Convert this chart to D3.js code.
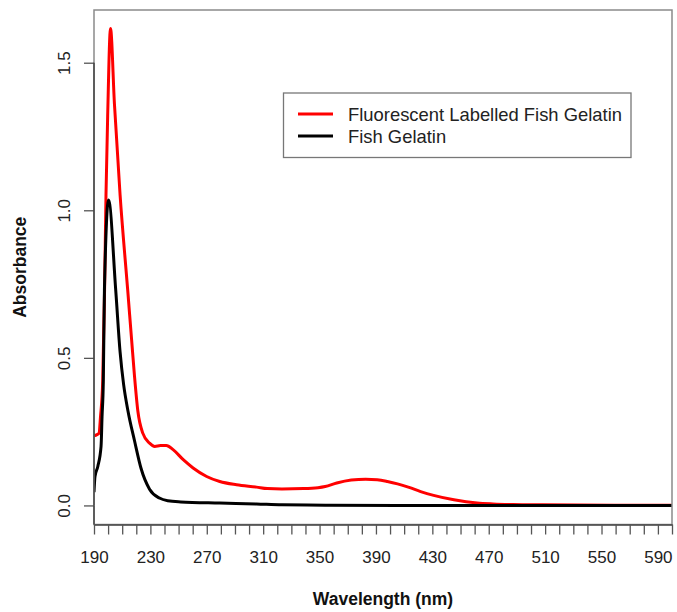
<!DOCTYPE html>
<html>
<head>
<meta charset="utf-8">
<script src="https://cdnjs.cloudflare.com/ajax/libs/d3/7.8.5/d3.min.js"></script>
<style>
  html, body { margin: 0; padding: 0; background: #fff; }
  svg { display: block; font-family: "Liberation Sans", Arial, sans-serif; }
</style>
</head>
<body>
<svg id="chart" width="677" height="612"></svg>
<script>
// ---- data ----
const seriesNames = ["Fluorescent Labelled Fish Gelatin", "Fish Gelatin"];
const seriesColors = ["#ff0000", "#000000"];

const labelledWavelength = [190, 192.1, 193.6, 194.6, 196.2, 197.5, 198.5, 199.7, 201.7, 204.5, 208.5, 213.9, 216.7, 218.7, 221.1, 224.6, 229.4, 233.1, 237.2, 241.3, 246.1, 253.3, 260.3, 269.9, 279.2, 291.1, 305.3, 313.0, 323.3, 338.7, 348.9, 354.0, 362.2, 372.5, 382.7, 390.9, 398.1, 405.3, 413.5, 421.7, 430.9, 445.3, 461.7, 473.0, 487.3, 507.8, 559.1, 600];
const labelledAbsorbance = [0.236, 0.240, 0.245, 0.30, 0.425, 0.73, 1.05, 1.32, 1.616, 1.36, 1.052, 0.730, 0.56, 0.44, 0.32, 0.245, 0.211, 0.200, 0.203, 0.203, 0.189, 0.155, 0.127, 0.098, 0.081, 0.070, 0.062, 0.057, 0.056, 0.057, 0.060, 0.064, 0.076, 0.086, 0.089, 0.087, 0.081, 0.073, 0.061, 0.047, 0.034, 0.019, 0.008, 0.005, 0.003, 0.002, 0.001, 0.001];

const gelatinWavelength = [190, 190.7, 192.7, 195.0, 195.7, 196.6, 197.4, 200.3, 205.4, 208.5, 211.0, 214.1, 218.7, 223.4, 229.4, 236.4, 242.3, 251.5, 279.2, 305.3, 323.3, 354.1, 405.3, 600];
const gelatinAbsorbance = [0.045, 0.098, 0.132, 0.20, 0.30, 0.42, 0.73, 1.035, 0.73, 0.52, 0.41, 0.32, 0.22, 0.125, 0.055, 0.025, 0.016, 0.012, 0.008, 0.005, 0.002, 0.001, 0.0, 0.0];

const xTicks = d3.range(190, 601, 10);
const xLabelTicks = [190, 230, 270, 310, 350, 390, 430, 470, 510, 550, 590];
const yTicks = [0.0, 0.5, 1.0, 1.5];
const yTickLabels = ["0.0", "0.5", "1.0", "1.5"];

const xTitle = "Wavelength (nm)";
const yTitle = "Absorbance";

// ---- layout ----
const svg = d3.select("#chart");
const pLeft = 94, pRight = 672, pTop = 10, pBottom = 524.5;

const x = d3.scaleLinear().domain([190, 600]).range([pLeft, pRight]);
const y = d3.scaleLinear().domain([-0.0646, 1.6786]).range([pBottom, pTop]);

const series = [
  { name: seriesNames[0], color: seriesColors[0], pts: labelledWavelength.map((w, i) => [w, labelledAbsorbance[i]]) },
  { name: seriesNames[1], color: seriesColors[1], pts: gelatinWavelength.map((w, i) => [w, gelatinAbsorbance[i]]) }
];

svg.append("defs").append("clipPath").attr("id", "clip")
  .append("rect").attr("x", pLeft).attr("y", pTop).attr("width", pRight - pLeft).attr("height", pBottom - pTop);

const line = d3.line().x(d => x(d[0])).y(d => y(d[1])).curve(d3.curveMonotoneX);

const g = svg.append("g").attr("clip-path", "url(#clip)");
series.forEach(s => {
  g.append("path").datum(s.pts).attr("d", line)
    .attr("fill", "none").attr("stroke", s.color).attr("stroke-width", 3).attr("stroke-linejoin", "round");
});

// box
svg.append("rect").attr("x", pLeft).attr("y", pTop).attr("width", pRight - pLeft).attr("height", pBottom - pTop)
  .attr("fill", "none").attr("stroke", "#8a8a8a").attr("stroke-width", 1.5);

// x axis
const xAxis = d3.axisBottom(x).tickValues(xTicks).tickSize(10).tickSizeOuter(0).tickPadding(16)
  .tickFormat(v => xLabelTicks.includes(v) ? String(v) : "");
const gx = svg.append("g").attr("transform", `translate(0,${pBottom})`).call(xAxis);
gx.select(".domain").attr("stroke", "#444").attr("stroke-width", 1.5);
gx.selectAll(".tick line").attr("stroke", "#555").attr("stroke-width", 1.3);
gx.selectAll(".tick text").attr("font-size", 17).attr("fill", "#222").style("font-family", "Liberation Sans, Arial, sans-serif");

// y axis
const yAxis = d3.axisLeft(y).tickValues(yTicks).tickSize(10).tickPadding(13)
  .tickFormat((v, i) => yTickLabels[i]);
const gy = svg.append("g").attr("transform", `translate(${pLeft},0)`).call(yAxis);
gy.select(".domain").remove();
gy.append("line").attr("x1", 0).attr("x2", 0).attr("y1", y(yTicks[0])).attr("y2", pBottom)
  .attr("stroke", "#444").attr("stroke-width", 1.5);
gy.append("line").attr("x1", 0).attr("x2", 0).attr("y1", y(yTicks[yTicks.length - 1])).attr("y2", y(yTicks[0]))
  .attr("stroke", "#444").attr("stroke-width", 1.5);
gy.selectAll(".tick line").attr("stroke", "#555").attr("stroke-width", 1.3);
gy.selectAll(".tick text")
  .attr("font-size", 17).attr("fill", "#222").style("font-family", "Liberation Sans, Arial, sans-serif")
  .attr("x", null).attr("dy", null)
  .attr("text-anchor", "middle")
  .attr("transform", "translate(-24,0) rotate(-90)");

// titles
svg.append("text").attr("x", (pLeft + pRight) / 2).attr("y", 605)
  .attr("text-anchor", "middle").attr("font-weight", "bold").attr("font-size", 17.5).attr("fill", "#111")
  .text(xTitle);
svg.append("text").attr("transform", `translate(26,${(pTop + pBottom) / 2}) rotate(-90)`)
  .attr("text-anchor", "middle").attr("font-weight", "bold").attr("font-size", 17.5).attr("fill", "#111")
  .text(yTitle);

// legend
const lg = svg.append("g");
lg.append("rect").attr("x", 283.5).attr("y", 93).attr("width", 347.5).attr("height", 64.5)
  .attr("fill", "#fff").attr("stroke", "#777").attr("stroke-width", 1.3);
const legendY = [114, 136];
series.forEach((s, i) => {
  lg.append("line").attr("x1", 298).attr("x2", 333).attr("y1", legendY[i]).attr("y2", legendY[i])
    .attr("stroke", s.color).attr("stroke-width", 3);
  lg.append("text").attr("x", 348).attr("y", legendY[i] + 6.5)
    .attr("font-size", 18.4).attr("fill", "#222").text(s.name);
});
</script>
</body>
</html>
